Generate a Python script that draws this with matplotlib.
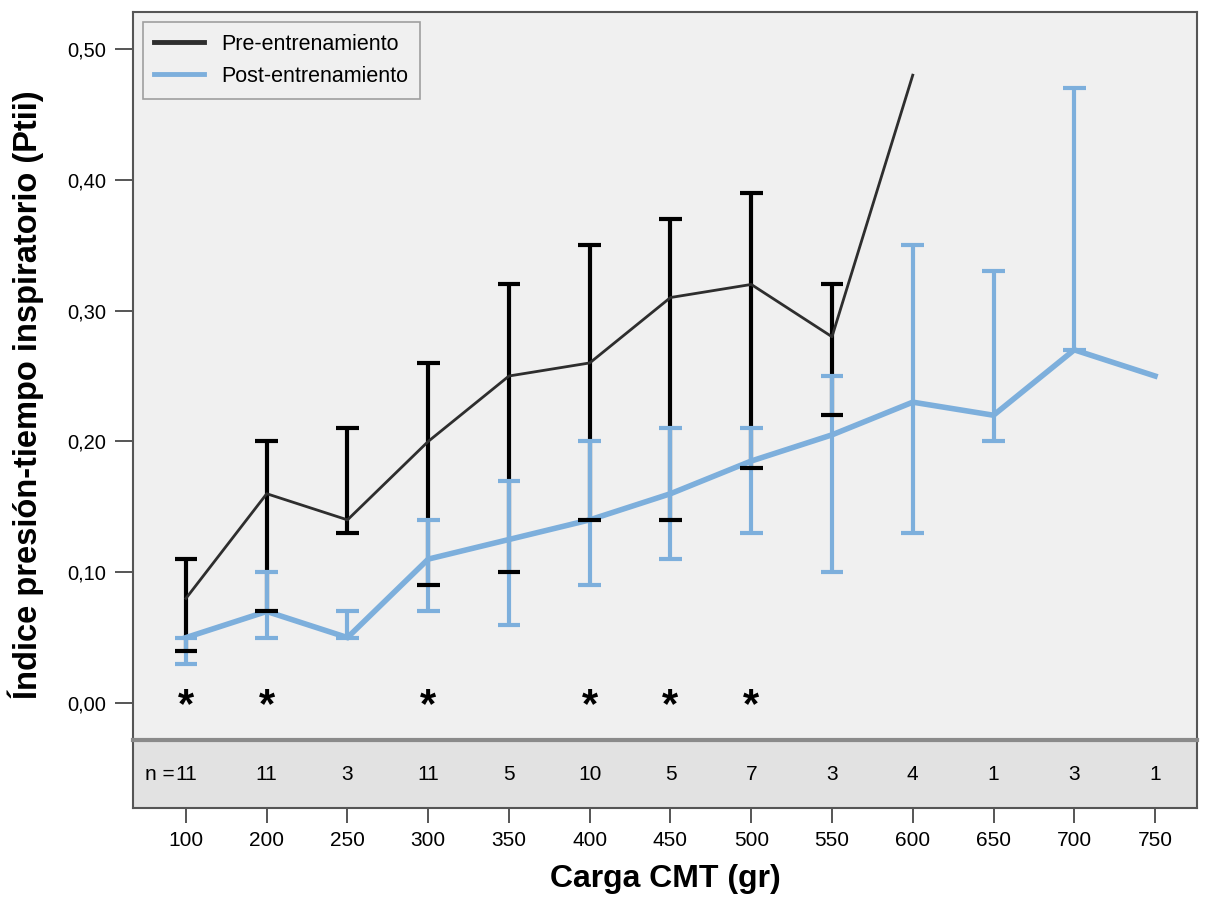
import numpy as np
import matplotlib as mpl
import matplotlib.pyplot as plt

mpl.rcParams.update({"font.family": ["Liberation Sans", "DejaVu Sans"], "font.size": 14})

cargas = ["100", "200", "250", "300", "350", "400", "450", "500", "550", "600", "650", "700", "750"]
n_casos = ["11", "11", "3", "11", "5", "10", "5", "7", "3", "4", "1", "3", "1"]

pre_media = [0.08, 0.16, 0.14, 0.20, 0.25, 0.26, 0.31, 0.32, 0.28, 0.48]
pre_sup = [0.11, 0.20, 0.21, 0.26, 0.32, 0.35, 0.37, 0.39, 0.32]
pre_inf = [0.04, 0.07, 0.13, 0.09, 0.10, 0.14, 0.14, 0.18, 0.22]

post_media = [0.05, 0.07, 0.05, 0.11, 0.125, 0.14, 0.16, 0.185, 0.205, 0.23, 0.22, 0.27, 0.25]
post_sup = [0.05, 0.10, 0.07, 0.14, 0.17, 0.20, 0.21, 0.21, 0.25, 0.35, 0.33, 0.47]
post_inf = [0.03, 0.05, 0.05, 0.07, 0.06, 0.09, 0.11, 0.13, 0.10, 0.13, 0.20, 0.27]

signif = ["100", "200", "300", "400", "450", "500"]

BG = "#f0f0f0"
FRAME = "#555555"
PRE = "#2e2e2e"
POST = "#7dafdc"

x = np.arange(len(cargas))
W, H = 1210, 907
fig = plt.figure(figsize=(W / 100, H / 100), dpi=100)
ax = fig.add_axes([133 / W, 1 - 740 / H, (1197 - 133) / W, (740 - 12) / H])
axn = fig.add_axes([133 / W, 1 - 808 / H, (1197 - 133) / W, (808 - 740) / H], sharex=ax)

ax.set_facecolor(BG)
ax.set_xlim(-0.656, 12.52)
ax.set_ylim(-0.0283, 0.5283)

# post-entrenamiento
xp = x[:len(post_sup)]
ax.vlines(xp, post_inf, post_sup, color=POST, lw=3, zorder=2)
for yy in (post_inf, post_sup):
    ax.hlines(yy, xp - 0.14, xp + 0.14, color=POST, lw=3, zorder=2)
ax.plot(x, post_media, color=POST, lw=4, solid_joinstyle="miter", zorder=3,
        label="Post-entrenamiento")

# pre-entrenamiento
xe = x[:len(pre_sup)]
ax.vlines(xe, pre_inf, pre_sup, color="black", lw=3, zorder=1)
for yy in (pre_inf, pre_sup):
    ax.hlines(yy, xe - 0.14, xe + 0.14, color="black", lw=3, zorder=4)
ax.plot(x[:len(pre_media)], pre_media, color=PRE, lw=2, zorder=4,
        label="Pre-entrenamiento")

for c in signif:
    ax.text(cargas.index(c), -0.002, "*", ha="center", va="center", fontsize=30,
            fontweight="bold", color="black")

yt = np.arange(0, 0.51, 0.1)
ax.set_yticks(yt)
ax.set_yticklabels([f"{v:.2f}".replace(".", ",") for v in yt])
ax.tick_params(axis="y", length=13, width=1.4, color=FRAME, labelsize=14.5, pad=6)
ax.tick_params(axis="x", bottom=False, labelbottom=False)
ax.set_ylabel("Índice presión-tiempo inspiratorio (Ptii)", fontsize=23.5,
              fontweight="bold")
ax.yaxis.set_label_coords(-0.0835, 0.475)
for s in ax.spines.values():
    s.set_color(FRAME)
    s.set_linewidth(1.5)

h, l = ax.get_legend_handles_labels()
leg = ax.legend(h[::-1], l[::-1], loc="upper left", bbox_to_anchor=(0.009, 0.986),
                fontsize=15.5, frameon=True, fancybox=False, facecolor=BG,
                edgecolor="#8a8a8a", borderpad=0.55, handlelength=2.3,
                handletextpad=0.8, borderaxespad=0, labelspacing=0.5)
leg.get_frame().set_linewidth(1.2)
for ln in leg.get_lines():
    ln.set_linewidth(3.5)

# n por carga
axn.set_facecolor("#e2e2e2")
axn.set_ylim(0, 1)
axn.set_yticks([])
for i, n in enumerate(n_casos):
    axn.text(i, 0.5, n, ha="center", va="center", fontsize=15)
axn.text(-0.14, 0.5, "n =", ha="right", va="center", fontsize=15)
axn.set_xticks(x)
axn.set_xticklabels(cargas)
axn.tick_params(axis="x", length=10.5, width=1.4, color=FRAME, labelsize=15, pad=6)
for s in axn.spines.values():
    s.set_color(FRAME)
    s.set_linewidth(1.5)
axn.spines["top"].set_color("#8a8a8a")
axn.spines["top"].set_linewidth(3)
axn.set_xlabel("Carga CMT (gr)", fontsize=23, fontweight="bold", labelpad=10)

fig.savefig("out.png", dpi=100, facecolor="white")
